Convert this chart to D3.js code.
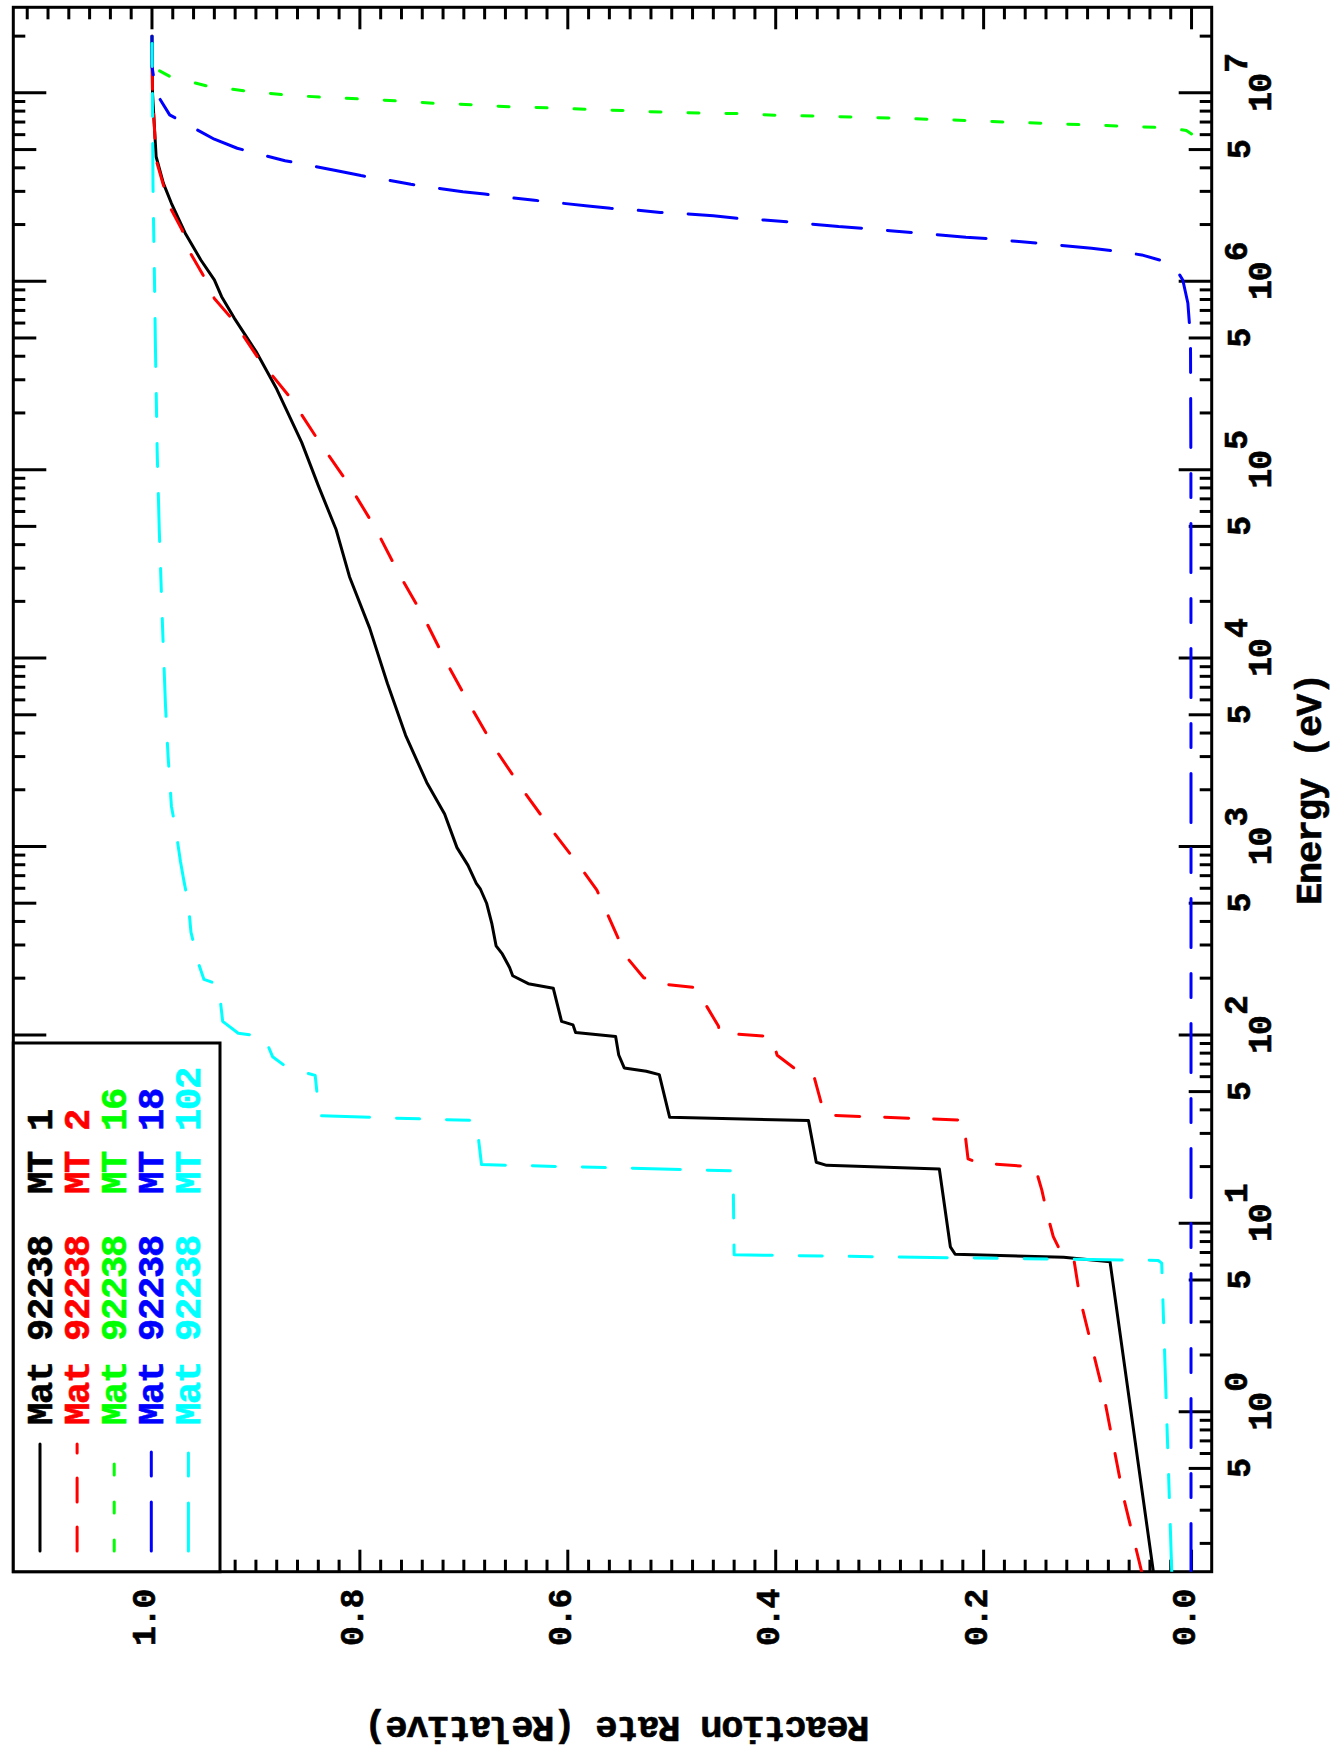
<!DOCTYPE html>
<meta charset="utf-8">
<style>

body {
  margin: 0;
  background: #fff;
}

svg {
  display: block;
}

text {
  font-family: "Liberation Mono", "Courier New", monospace;
  font-weight: bold;
  fill: #000;
  stroke: #000;
  stroke-width: 0.6px;
}

.frame {
  fill: none;
  stroke: #000;
  stroke-width: 3px;
}

.tick {
  stroke: #000;
  stroke-width: 3px;
}

.line {
  fill: none;
  stroke-width: 3px;
  stroke-linecap: round;
  stroke-linejoin: round;
}

.ticklabel {
  font-size: 33px;
  letter-spacing: -1px;
}

.title {
  font-size: 37px;
  letter-spacing: -1.2px;
}

</style>
<svg width="1335" height="1753"></svg>
<script src="https://d3js.org/d3.v7.min.js"></script>
<script>

// Axis ranges
var energyDomain = [0.1415, 2.845e7];
var rateDomain = [-0.0194, 1.1334];
var rateLabels = [0, 0.2, 0.4, 0.6, 0.8, 1.0];

// [energy (eV), relative reaction rate]
var mt1 = [[0.14, 0.0366], [6.25, 0.0784], [6.6, 0.123], [6.85, 0.2274], [7.5, 0.232], [19.4, 0.2426],
  [20.3, 0.351], [21.1, 0.361], [35.1, 0.3685], [36.5, 0.502], [61.5, 0.512], [64.1, 0.5245],
  [66.8, 0.5457], [78.2, 0.551], [98, 0.554], [103, 0.5925], [113, 0.595], [118, 0.606],
  [177, 0.614], [187, 0.638], [206, 0.653], [228, 0.656], [269, 0.663], [297, 0.669],
  [388, 0.673], [498, 0.678], [593, 0.684], [637, 0.688], [794, 0.696], [986, 0.7066],
  [1486, 0.7185], [2188, 0.7357], [3890, 0.756], [7328, 0.7735], [14420, 0.7906],
  [27040, 0.810], [48310, 0.823], [82220, 0.840], [139600, 0.856], [267900, 0.880],
  [424600, 0.900], [639700, 0.921], [827900, 0.933], [1.016e6, 0.940], [1.297e6, 0.953],
  [1.799e6, 0.968], [2.594e6, 0.9813], [3.31e6, 0.989], [4.58e6, 0.996], [1e7, 0.9995], [2e7, 1.0]];

var mt2 = [[0.14, 0.0478], [0.354, 0.0656], [1.253, 0.0848], [3.92, 0.107], [6.6, 0.1135],
  [6.9, 0.125], [8.5, 0.133], [11.3, 0.139], [15, 0.144], [19.9, 0.1505], [20.9, 0.205],
  [22, 0.215], [35.3, 0.2194], [37.5, 0.353], [61.1, 0.3635], [65.8, 0.381], [78, 0.3986],
  [98, 0.404], [102.3, 0.454], [111, 0.455], [178, 0.477], [185, 0.504], [201, 0.527],
  [253, 0.542], [330, 0.552], [440, 0.562], [586, 0.572], [755, 0.5863], [1225, 0.6155],
  [1986, 0.643], [3304, 0.670], [5610, 0.694], [9550, 0.717], [16670, 0.739], [28380, 0.763],
  [49430, 0.7855], [84140, 0.811], [139600, 0.8387], [237700, 0.866], [385500, 0.897],
  [631000, 0.923], [810800, 0.940], [1.057e6, 0.950], [1.409e6, 0.963], [1.871e6, 0.971],
  [2.489e6, 0.983], [3.31e6, 0.9895], [4.406e6, 0.996], [1e7, 0.9995], [2e7, 1.0]];

var mt16 = [[6.05e6, 0], [6.31e6, 0.005], [6.40e6, 0.0117], [6.56e6, 0.035], [6.67e6, 0.071],
  [6.78e6, 0.1077], [6.90e6, 0.144], [7.0e6, 0.1806], [7.14e6, 0.217], [7.24e6, 0.2535],
  [7.36e6, 0.2898], [7.48e6, 0.341], [7.60e6, 0.399], [7.76e6, 0.4356], [7.85e6, 0.487],
  [7.94e6, 0.523], [8.05e6, 0.546], [8.18e6, 0.582], [8.32e6, 0.619], [8.43e6, 0.655],
  [8.65e6, 0.6915], [8.81e6, 0.7296], [9.06e6, 0.7644], [9.29e6, 0.801], [9.48e6, 0.837],
  [9.77e6, 0.8737], [1.023e7, 0.910], [1.086e7, 0.9465], [1.132e7, 0.9597], [1.208e7, 0.981],
  [1.324e7, 0.9945], [1.758e7, 1.0], [2e7, 1.0]];

var mt18 = [[0.14, 0.0005], [1e3, 0.0005], [1e5, 0.0006], [5.0e5, 0.001], [7.64e5, 0.0035],
  [1.016e6, 0.0084], [1.125e6, 0.0134], [1.27e6, 0.025], [1.38e6, 0.048], [1.45e6, 0.0746],
  [1.496e6, 0.0962], [1.59e6, 0.1459], [1.63e6, 0.169], [1.683e6, 0.1955], [1.71e6, 0.217],
  [1.81e6, 0.2666], [1.854e6, 0.290], [1.91e6, 0.316], [1.95e6, 0.3395], [2.07e6, 0.389],
  [2.113e6, 0.411], [2.158e6, 0.437], [2.228e6, 0.460], [2.29e6, 0.492], [2.32e6, 0.511],
  [2.38e6, 0.5326], [2.438e6, 0.559], [2.51e6, 0.5806], [2.69e6, 0.632], [2.77e6, 0.6535],
  [2.904e6, 0.680], [2.985e6, 0.701], [3.27e6, 0.751], [3.45e6, 0.774], [3.64e6, 0.799],
  [3.86e6, 0.822], [4.365e6, 0.872], [4.677e6, 0.8935], [5.08e6, 0.918], [5.675e6, 0.940],
  [7.64e6, 0.983], [1e7, 0.996], [1.38e7, 1.0], [2e7, 1.0]];

var mt102 = [[0.14, 0.019], [6.15, 0.0287], [6.35, 0.032], [6.8, 0.44], [19.0, 0.441],
  [20.5, 0.683], [35.1, 0.688], [37.2, 0.839], [61, 0.843], [66.5, 0.869], [76.6, 0.884],
  [98, 0.892], [102, 0.917], [118, 0.932], [185, 0.936], [197, 0.950], [237, 0.955],
  [351, 0.9625], [498, 0.965], [653, 0.9692], [832, 0.9726], [1197, 0.9768], [1637, 0.9813],
  [3069, 0.9846], [5610, 0.987], [14420, 0.9898], [48310, 0.993], [125900, 0.995],
  [424600, 0.9966], [794300, 0.9973], [3.16e6, 0.999], [2e7, 1.0]];

var legendLabels = ["Mat 92238  MT 1", "Mat 92238  MT 2", "Mat 92238  MT 16",
  "Mat 92238  MT 18", "Mat 92238  MT 102"];

// Styles, one per series
var colors = ["#000000", "#ff0000", "#00ff00", "#0000ff", "#00ffff"];
var dashes = [null, "24 25", "11 27", "49 26 24 26", "48 27 23 27 23 27"];

var series = [mt1, mt2, mt16, mt18, mt102];

// The plot is drawn landscape and turned a quarter turn onto the portrait page
var svg = d3.select("svg"),
    W = +svg.attr("height"),
    H = +svg.attr("width"),
    margin = {top: 13.3, right: 7.3, bottom: 123.3, left: 181.3},
    width = W - margin.left - margin.right,
    height = H - margin.top - margin.bottom;

var root = svg.append("g").attr("transform", "translate(0," + W + ") rotate(-90)");
var g = root.append("g").attr("transform", "translate(" + margin.left + "," + margin.top + ")");

var x = d3.scaleLog().domain(energyDomain).range([0, width]),
    y = d3.scaleLinear().domain(rateDomain).range([height, 0]);

g.append("clipPath").attr("id", "clip")
  .append("rect").attr("width", width).attr("height", height);

// Energy ticks: decades long, fives medium, rest short; on bottom and top
function mantissa(v) {
  return Math.round(v / Math.pow(10, Math.floor(Math.log10(v) + 1e-9)));
}
var eTicks = x.ticks();
function eLen(v) {
  var m = mantissa(v);
  return m === 1 ? 33 : (m === 5 ? 23 : 12);
}
g.selectAll(".etick-b").data(eTicks).enter().append("line")
    .attr("class", "tick")
    .attr("x1", d => x(d)).attr("x2", d => x(d))
    .attr("y1", height).attr("y2", d => height - eLen(d));
g.selectAll(".etick-t").data(eTicks).enter().append("line")
    .attr("class", "tick")
    .attr("x1", d => x(d)).attr("x2", d => x(d))
    .attr("y1", 0).attr("y2", d => eLen(d));

// Rate ticks every 0.02, long every 0.2; on left and right
var rTicks = d3.range(0, 57).map(i => ({v: i * 0.02, major: i % 10 === 0}));
g.selectAll(".rtick-l").data(rTicks).enter().append("line")
    .attr("class", "tick")
    .attr("x1", 0).attr("x2", d => d.major ? 22 : 12)
    .attr("y1", d => y(d.v)).attr("y2", d => y(d.v));
g.selectAll(".rtick-r").data(rTicks).enter().append("line")
    .attr("class", "tick")
    .attr("x1", width).attr("x2", d => width - (d.major ? 22 : 12))
    .attr("y1", d => y(d.v)).attr("y2", d => y(d.v));

g.append("rect").attr("class", "frame").attr("width", width).attr("height", height);

// Energy labels: 10^n at decades, "5" at the halves
var decades = eTicks.filter(d => mantissa(d) === 1);
var fives = eTicks.filter(d => mantissa(d) === 5);
var lab = g.selectAll(".elab").data(decades).enter().append("g")
    .attr("transform", d => "translate(" + x(d) + "," + (height + 59) + ")");
lab.append("text")
    .attr("class", "ticklabel")
    .attr("text-anchor", "middle")
    .text("10");
lab.append("text")
    .attr("class", "ticklabel")
    .attr("x", 20).attr("y", -24)
    .text(d => Math.round(Math.log10(d)));
g.selectAll(".flab").data(fives).enter().append("text")
    .attr("class", "ticklabel")
    .attr("x", d => x(d)).attr("y", height + 38)
    .attr("text-anchor", "middle")
    .text("5");

// Rate labels
g.selectAll(".rlab").data(rateLabels).enter().append("text")
    .attr("class", "ticklabel")
    .attr("x", -18).attr("y", d => y(d) + 3)
    .attr("text-anchor", "end")
    .text(d => d.toFixed(1));

// Axis titles
g.append("text")
    .attr("class", "title")
    .attr("x", width / 2).attr("y", height + 109)
    .attr("text-anchor", "middle")
    .text("Energy (eV)");
g.append("text")
    .attr("class", "title")
    .attr("transform", "translate(-145," + (height / 2 + 5) + ") rotate(-90)")
    .attr("text-anchor", "middle")
    .text("Reaction Rate (Relative)");

// Curves
var line = d3.line()
    .x(d => x(d[0]))
    .y(d => y(d[1]));

g.append("g").attr("clip-path", "url(#clip)")
  .selectAll(".line").data(series).enter().append("path")
    .attr("class", "line")
    .attr("d", d => line(d))
    .style("stroke", (d, i) => colors[i])
    .style("stroke-dasharray", (d, i) => dashes[i]);

// Legend box in the corner
var legend = g.append("g");
legend.append("rect")
    .attr("class", "frame")
    .style("fill", "#fff")
    .attr("width", 528.7).attr("height", 206.7);
var row = legend.selectAll(".row").data(legendLabels).enter().append("g")
    .attr("transform", (d, i) => "translate(0," + (26.7 + i * 37.1) + ")");
row.append("line")
    .attr("class", "line")
    .attr("x1", 20.7).attr("x2", 127.7)
    .style("stroke", (d, i) => colors[i])
    .style("stroke-dasharray", (d, i) => dashes[i]);
row.append("text")
    .attr("class", "title")
    .attr("x", 146.7).attr("y", 12)
    .style("white-space", "pre")
    .style("fill", (d, i) => colors[i])
    .style("stroke", (d, i) => colors[i])
    .text(d => d);

</script>
